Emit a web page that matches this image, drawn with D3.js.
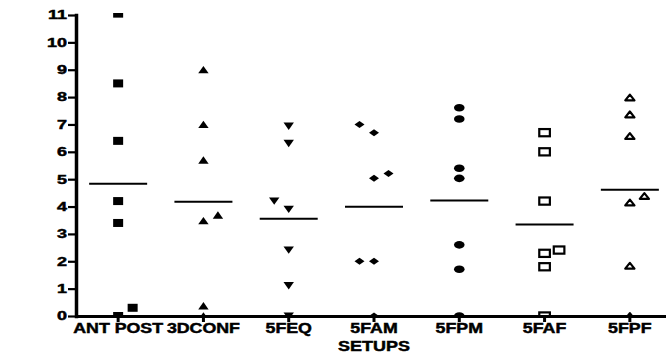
<!DOCTYPE html>
<html>
<head>
<meta charset="utf-8">
<script src="https://cdnjs.cloudflare.com/ajax/libs/d3/7.8.5/d3.min.js"></script>
<style>
body { margin: 0; background: #fff; }
svg { display: block; }
text { font-family: "Liberation Sans", Arial, sans-serif; font-weight: bold; fill: #000; stroke: #000; stroke-width: 0.45px; }
</style>
</head>
<body>
<svg width="666" height="355"></svg>
<script>
// categories and values
var setups = ["ANT POST", "3DCONF", "5FEQ", "5FAM", "5FPM", "5FAF", "5FPF"];

var antPost = [11.05, 8.5, 6.4, 4.2, 3.4, 0.3, 0];
var conf3d  = [9.0, 7.0, 5.7, 3.48, 3.69, 0.37, 0];
var feq     = [6.94, 6.31, 4.2, 3.9, 2.41, 1.11, 0];
var fam     = [7.0, 6.7, 5.21, 5.03, 2.0, 2.0, 0];
var fpm     = [7.61, 7.2, 5.4, 5.03, 2.6, 1.71, 0];
var faf     = [6.7, 6.0, 4.2, 2.29, 2.41, 1.8, 0];
var fpf     = [7.99, 7.37, 6.58, 4.15, 4.39, 1.84, 0];

// column of each point in the scatter (0 = centre, -1 left, 1 right)
var antPostCol = [0, 0, 0, 0, 0, 1, 0];
var conf3dCol  = [0, 0, 0, 0, 1, 0, 0];
var feqCol     = [0, 0, -1, 0, 0, 0, 0];
var famCol     = [-1, 0, 1, 0, -1, 0, 0];
var fpmCol     = [0, 0, 0, 0, 0, 0, 0];
var fafCol     = [0, 0, 0, 0, 1, 0, 0];
var fpfCol     = [0, 0, 0, 0, 1, 0, 0];

var yTicks = [0, 1, 2, 3, 4, 5, 6, 7, 8, 9, 10, 11];
var xTitle = "SETUPS";

var series = [antPost, conf3d, feq, fam, fpm, faf, fpf];
var columns = [antPostCol, conf3dCol, feqCol, famCol, fpmCol, fafCol, fpfCol];
var symbolTypes = ["square", "triangle", "triangleDown", "diamond", "circle", "squareOpen", "triangleOpen"];

var svg = d3.select("svg");

var x = d3.scaleBand().domain(setups).range([75.5, 672.5]).padding(0);
var y = d3.scaleLinear().domain([0, 11]).range([316, 15]);
var step = 14.5;

// clip: points at zero are cut by the axis, the top one by the frame
svg.append("defs").append("clipPath").attr("id", "plotclip")
    .append("rect").attr("x", 78).attr("y", 13).attr("width", 600).attr("height", 303);

var plot = svg.append("g").attr("clip-path", "url(#plotclip)");

function drawSymbol(sel, type) {
    if (type == "circle") {
        sel.append("ellipse").attr("rx", 5.3).attr("ry", 3.8).attr("fill", "#000");
    } else if (type == "square") {
        sel.append("rect").attr("x", -5).attr("y", -4).attr("width", 10).attr("height", 8).attr("fill", "#000");
    } else if (type == "squareOpen") {
        sel.append("rect").attr("x", -5.3).attr("y", -3.6).attr("width", 10.6).attr("height", 7.2)
            .attr("fill", "#fff").attr("stroke", "#000").attr("stroke-width", 2.2);
    } else if (type == "triangle") {
        sel.append("path").attr("d", "M0,-3.8L5.2,3.6L-5.2,3.6Z").attr("fill", "#000");
    } else if (type == "triangleDown") {
        sel.append("path").attr("d", "M0,3.8L5.2,-3.6L-5.2,-3.6Z").attr("fill", "#000");
    } else if (type == "diamond") {
        sel.append("path").attr("d", "M0,-3.5L5,0L0,3.5L-5,0Z").attr("fill", "#000");
    } else if (type == "triangleOpen") {
        sel.append("path").attr("d", "M0,-2.8L4.6,3L-4.6,3Z")
            .attr("fill", "#fff").attr("stroke", "#000").attr("stroke-width", 2.2).attr("stroke-linejoin", "round");
    }
}

setups.forEach(function(name, i) {
    var cx = x(name) + x.bandwidth() / 2;
    var vals = series[i];

    var pts = plot.append("g").selectAll("g")
        .data(vals.map(function(v, j) { return {value: v, col: columns[i][j]}; }))
        .enter().append("g")
        .attr("transform", function(d) { return "translate(" + (cx + d.col * step) + "," + y(d.value) + ")"; });
    pts.each(function() { drawSymbol(d3.select(this), symbolTypes[i]); });

    // mean line
    var m = d3.mean(vals);
    svg.append("line")
        .attr("x1", cx - 29).attr("x2", cx + 29)
        .attr("y1", y(m)).attr("y2", y(m))
        .attr("stroke", "#000").attr("stroke-width", 2);
});

// y axis
var yAxis = svg.append("g")
    .attr("transform", "translate(76,0)")
    .call(d3.axisLeft(y).tickValues(yTicks).tickSizeInner(8).tickSizeOuter(0).tickPadding(1));
yAxis.select(".domain").attr("stroke-width", 3.5).attr("stroke-linecap", "square");
yAxis.selectAll(".tick line").attr("stroke-width", 2.2);
yAxis.selectAll(".tick text")
    .attr("font-size", 12)
    .attr("x", -9 / 1.5)
    .attr("transform", "scale(1.5,1)")
    .style("font-family", "'Liberation Sans', Arial, sans-serif");

// x axis
var xAxis = svg.append("g")
    .attr("transform", "translate(0,316)")
    .call(d3.axisBottom(x).tickSizeInner(6).tickSizeOuter(0));
xAxis.select(".domain").attr("stroke-width", 3);
xAxis.selectAll(".tick line").attr("stroke-width", 3);
xAxis.selectAll(".tick text")
    .attr("font-size", 14)
    .attr("y", 17)
    .attr("dy", 0)
    .attr("transform", "scale(1.27,1)")
    .style("font-family", "'Liberation Sans', Arial, sans-serif");

svg.append("text")
    .attr("text-anchor", "middle")
    .attr("font-size", 14.5)
    .attr("transform", "translate(374,351) scale(1.24,1)")
    .text(xTitle);
</script>
</body>
</html>
